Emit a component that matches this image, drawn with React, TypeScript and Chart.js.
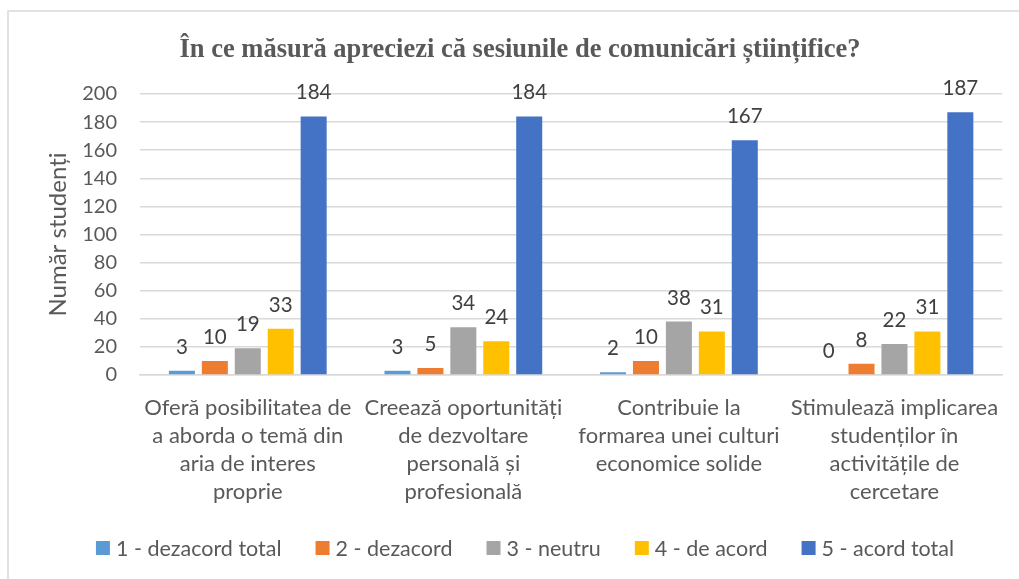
import React, { useEffect, useRef } from "react";
import { Chart, registerables } from "chart.js";

Chart.register(...registerables);

const categories: string[][] = [
  ["Oferă posibilitatea de", "a aborda o temă din", "aria de interes", "proprie"],
  ["Creează oportunități", "de dezvoltare", "personală și", "profesională"],
  ["Contribuie la", "formarea unei culturi", "economice solide"],
  ["Stimulează implicarea", "studenților în", "activitățile de", "cercetare"],
];

const seriesNames = [
  "1 - dezacord total",
  "2 - dezacord",
  "3 - neutru",
  "4 - de acord",
  "5 - acord total",
];
const seriesColors = ["#5B9BD5", "#ED7D31", "#A5A5A5", "#FFC000", "#4472C4"];

const dezacordTotal = [3, 3, 2, 0];
const dezacord = [10, 5, 10, 8];
const neutru = [19, 34, 38, 22];
const deAcord = [33, 24, 31, 31];
const acordTotal = [184, 184, 167, 187];

const yTicks = [0, 20, 40, 60, 80, 100, 120, 140, 160, 180, 200];

const titleText = "În ce măsură apreciezi că sesiunile de comunicări științifice?";
const yTitle = "Număr studenți";

const FONT = "Lato, 'Open Sans', sans-serif";
const TEXT = "#595959";

const framePlugin = {
  id: "frameBorder",
  beforeDraw(chart: any) {
    const ctx = chart.ctx;
    ctx.save();
    ctx.fillStyle = "#ffffff";
    ctx.fillRect(0, 0, chart.width, chart.height);
    ctx.strokeStyle = "#D9D9D9";
    ctx.lineWidth = 1.5;
    ctx.beginPath();
    ctx.moveTo(8, chart.height + 5);
    ctx.lineTo(8, 11);
    ctx.lineTo(chart.width + 5, 11);
    ctx.stroke();
    ctx.restore();
  },
  afterDraw(chart: any) {
    const ctx = chart.ctx;
    ctx.save();
    // title
    ctx.fillStyle = TEXT;
    ctx.font = `bold 26.5px 'Liberation Serif', 'Times New Roman', serif`;
    ctx.textAlign = "center";
    ctx.textBaseline = "alphabetic";
    ctx.fillText(titleText, 520, 57);
    // legend
    ctx.font = `21.5px ${FONT}`;
    ctx.textAlign = "left";
    const box = 14;
    const gap = 6;
    const spacing = 34;
    const widths = seriesNames.map((n) => ctx.measureText(n).width);
    const total =
      widths.reduce((a, w) => a + box + gap + w, 0) + spacing * (seriesNames.length - 1);
    let x = 525 - total / 2;
    const cy = 548;
    seriesNames.forEach((n, i) => {
      ctx.fillStyle = seriesColors[i];
      ctx.fillRect(x, cy - box / 2, box, box);
      ctx.fillStyle = TEXT;
      ctx.fillText(n, x + box + gap, cy + 8);
      x += box + gap + widths[i] + spacing;
    });
    ctx.restore();
  },
};

const valueLabels = {
  id: "valueLabels",
  afterDatasetsDraw(chart: any) {
    const ctx = chart.ctx;
    ctx.save();
    ctx.font = `20.5px ${FONT}`;
    ctx.fillStyle = "#404040";
    ctx.textAlign = "center";
    ctx.textBaseline = "alphabetic";
    chart.data.datasets.forEach((ds: any, i: number) => {
      const meta = chart.getDatasetMeta(i);
      meta.data.forEach((bar: any, j: number) => {
        ctx.fillText(String(ds.data[j]), bar.x, bar.y - 17);
      });
    });
    ctx.restore();
  },
};

export default function App() {
  const ref = useRef<HTMLCanvasElement | null>(null);

  useEffect(() => {
    if (!ref.current) return;
    const datasets = [dezacordTotal, dezacord, neutru, deAcord, acordTotal].map(
      (d, i) => ({
        label: seriesNames[i],
        data: d,
        backgroundColor: seriesColors[i],
        borderWidth: 0,
        barPercentage: 0.79,
        categoryPercentage: 0.764,
      })
    );
    const chart = new Chart(ref.current, {
      type: "bar",
      data: { labels: categories as any, datasets },
      options: {
        animation: false,
        responsive: false,
        layout: { padding: { left: 0, right: 15, top: 94, bottom: 0 } },
        plugins: {
          title: { display: false },
          legend: { display: false },
          tooltip: { enabled: false },
        },
        scales: {
          x: {
            grid: { display: false, drawTicks: false },
            border: { display: true, color: "#D9D9D9", width: 1.5 },
            ticks: {
              color: TEXT,
              font: { family: FONT, size: 22, lineHeight: 28 / 22 },
              padding: 19,
              maxRotation: 0,
              autoSkip: false,
            },
            afterFit(scale: any) {
              scale.height = 204;
            },
          },
          y: {
            min: 0,
            max: 200,
            afterBuildTicks(scale: any) {
              scale.ticks = yTicks.map((v) => ({ value: v }));
            },
            grid: { color: "#D9D9D9", lineWidth: 1.5, drawTicks: false },
            border: { display: false },
            ticks: {
              color: TEXT,
              font: { family: FONT, size: 20 },
              padding: 23,
            },
            title: {
              display: true,
              text: yTitle,
              color: TEXT,
              font: { family: FONT, size: 24 },
              padding: { top: 44, bottom: 0 },
            },
            afterFit(scale: any) {
              scale.width = 140;
            },
          },
        },
      },
      plugins: [framePlugin, valueLabels],
    });
    return () => chart.destroy();
  }, []);

  return (
    <div style={{ position: "absolute", left: 0, top: 0, width: 1019, height: 579 }}>
      <canvas ref={ref} width={1019} height={579} style={{ display: "block" }} />
    </div>
  );
}
